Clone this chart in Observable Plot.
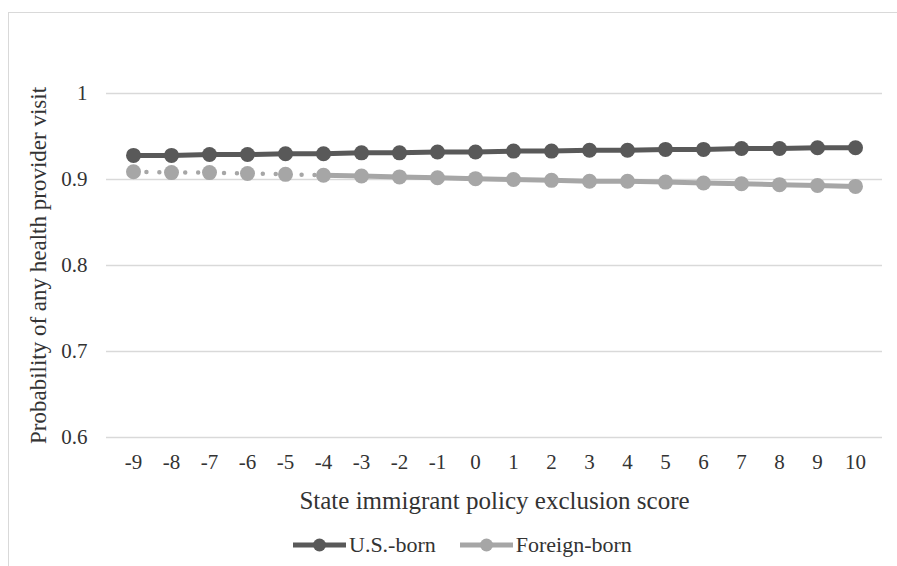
<!DOCTYPE html>
<html>
<head>
<meta charset="utf-8">
<script src="https://cdn.jsdelivr.net/npm/d3@7"></script>
<script src="https://cdn.jsdelivr.net/npm/@observablehq/plot@0.6"></script>
<style>
  html, body { margin: 0; padding: 0; background: #fff; }
  #wrap { position: relative; width: 897px; height: 566px; overflow: hidden; }
  #border { position: absolute; left: 8px; top: 12px; right: -5px; bottom: -5px;
            border-left: 1.5px solid #d9d9d9; border-top: 1.5px solid #d9d9d9; }
  #chart { position: absolute; left: 0; top: 0; }
  #legend { position: absolute; top: 532px; left: 293px; display: flex; align-items: center;
            font-family: "Liberation Serif", "Times New Roman", serif; font-size: 22px; color: #333; }
  #legend .item { display: flex; align-items: center; }
  #legend svg { display: block; }
</style>
</head>
<body>
<div id="wrap">
  <div id="border"></div>
  <div id="chart"></div>
  <div id="legend"></div>
</div>
<script>
const scores = [-9, -8, -7, -6, -5, -4, -3, -2, -1, 0, 1, 2, 3, 4, 5, 6, 7, 8, 9, 10];
const usBorn = [0.928, 0.928, 0.929, 0.929, 0.930, 0.930, 0.931, 0.931, 0.932, 0.932,
                0.933, 0.933, 0.934, 0.934, 0.935, 0.935, 0.936, 0.936, 0.937, 0.937];
const foreignBorn = [0.909, 0.908, 0.908, 0.907, 0.906, 0.905, 0.904, 0.903, 0.902, 0.901,
                     0.900, 0.899, 0.898, 0.898, 0.897, 0.896, 0.895, 0.894, 0.893, 0.892];
const yTicks = [0.6, 0.7, 0.8, 0.9, 1];
const seriesNames = ["U.S.-born", "Foreign-born"];
const seriesColors = ["#595959", "#a6a6a6"];
const dottedUntil = -4;

const us = scores.map((x, i) => ({x, v: usBorn[i]}));
const fb = scores.map((x, i) => ({x, v: foreignBorn[i]}));
const fbDotted = fb.filter(d => d.x <= dottedUntil);
const fbSolid = fb.filter(d => d.x >= dottedUntil);

const step = (882 - 106) / scores.length;

const chart = Plot.plot({
  width: 897,
  height: 520,
  marginLeft: 106,
  marginRight: 15,
  marginTop: 93,
  marginBottom: 83,
  style: {fontFamily: "'Liberation Serif', 'Times New Roman', serif", fontSize: "21px", color: "#333", background: "transparent"},
  x: {type: "point", domain: scores, padding: 0.5},
  y: {domain: [0.6, 1]},
  marks: [
    Plot.gridY(yTicks, {stroke: "#d9d9d9", strokeOpacity: 1, strokeWidth: 1.5}),
    Plot.axisX({tickSize: 0, tickPadding: 17, label: null, fontSize: 21}),
    Plot.axisY(yTicks, {tickSize: 0, tickPadding: 19, label: null, fontSize: 21,
      tickFormat: d => d === 1 ? "1" : d.toFixed(1)}),
    Plot.text(["State immigrant policy exclusion score"], {frameAnchor: "bottom", textAnchor: "middle", lineAnchor: "middle", dy: 63, fontSize: 25, fill: "#333"}),
    Plot.text(["Probability of any health provider visit"], {frameAnchor: "left", textAnchor: "middle", lineAnchor: "middle", dx: -68, rotate: -90, fontSize: 23, fill: "#333"}),
    Plot.lineY(us, {x: "x", y: "v", stroke: seriesColors[0], strokeWidth: 5}),
    Plot.dot(us, {x: "x", y: "v", r: 7.5, fill: seriesColors[0]}),
    Plot.lineY(fbDotted, {x: "x", y: "v", stroke: seriesColors[1], strokeWidth: 4.5,
      strokeLinecap: "round", strokeDasharray: `0,${step / 3}`}),
    Plot.lineY(fbSolid, {x: "x", y: "v", stroke: seriesColors[1], strokeWidth: 5}),
    Plot.dot(fb, {x: "x", y: "v", r: 7.5, fill: seriesColors[1]})
  ]
});
document.getElementById("chart").appendChild(chart);

const legend = document.getElementById("legend");
seriesNames.forEach((name, i) => {
  const item = document.createElement("div");
  item.className = "item";
  if (i > 0) item.style.marginLeft = "24px";
  item.innerHTML = `<svg width="53" height="16"><line x1="0" y1="8" x2="53" y2="8" stroke="${seriesColors[i]}" stroke-width="5"/><circle cx="26.5" cy="8" r="6.5" fill="${seriesColors[i]}"/></svg><span style="margin-left:3px">${name}</span>`;
  legend.appendChild(item);
});
</script>
</body>
</html>
